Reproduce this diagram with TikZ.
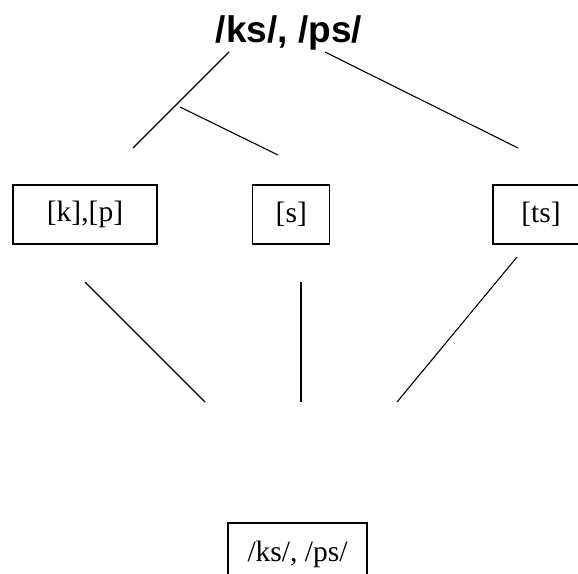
\documentclass[tikz,border=0pt]{standalone}
\usepackage{fontspec}
\setmainfont{Liberation Serif}
\newfontfamily\titlefont{Liberation Sans}
\begin{document}
\begin{tikzpicture}[x=1pt,y=-1pt,
  phonbox/.style={draw, line width=1.2pt, minimum height=59pt, inner sep=0pt,
    font=\fontsize{29.5}{32}\selectfont},
  conn/.style={line width=1.1pt}]
\useasboundingbox (0,0) rectangle (578,573);
\begin{scope}
\clip (0,0) rectangle (578,573);
\node[anchor=base, font=\titlefont\bfseries\fontsize{37}{40}\selectfont] (title) at (289,42) {/ks/, /ps/};
\node[phonbox, minimum width=144pt] (kp) at (85,214.5) {[k],[p]};
\node[phonbox, minimum width=77pt] (s) at (291.3,214.5) {[s]};
\node[phonbox, minimum width=96pt] (ts) at (541,214.5) {[ts]};
\node[phonbox, minimum width=139pt, minimum height=62pt] (bot) at (297.5,554) {/ks/, /ps/};
\end{scope}
% top connectors
\coordinate (a1) at (229,52);
\coordinate (a2) at (133,148);
\coordinate (b0) at (180,107);
\coordinate (b1) at (278,155);
\coordinate (c1) at (325,52);
\coordinate (c2) at (518,148);
\draw[conn] (a1) -- (a2);
\draw[conn] (b0) -- (b1);
\draw[conn] (c1) -- (c2);
% lower connectors
\coordinate (d1) at (85,282);
\coordinate (d2) at (205,402);
\coordinate (e1) at (301,282);
\coordinate (e2) at (301,402);
\coordinate (f1) at (517,257);
\coordinate (f2) at (397,402);
\draw[conn] (d1) -- (d2);
\draw[conn] (e1) -- (e2);
\draw[conn] (f1) -- (f2);
\end{tikzpicture}
\end{document}
